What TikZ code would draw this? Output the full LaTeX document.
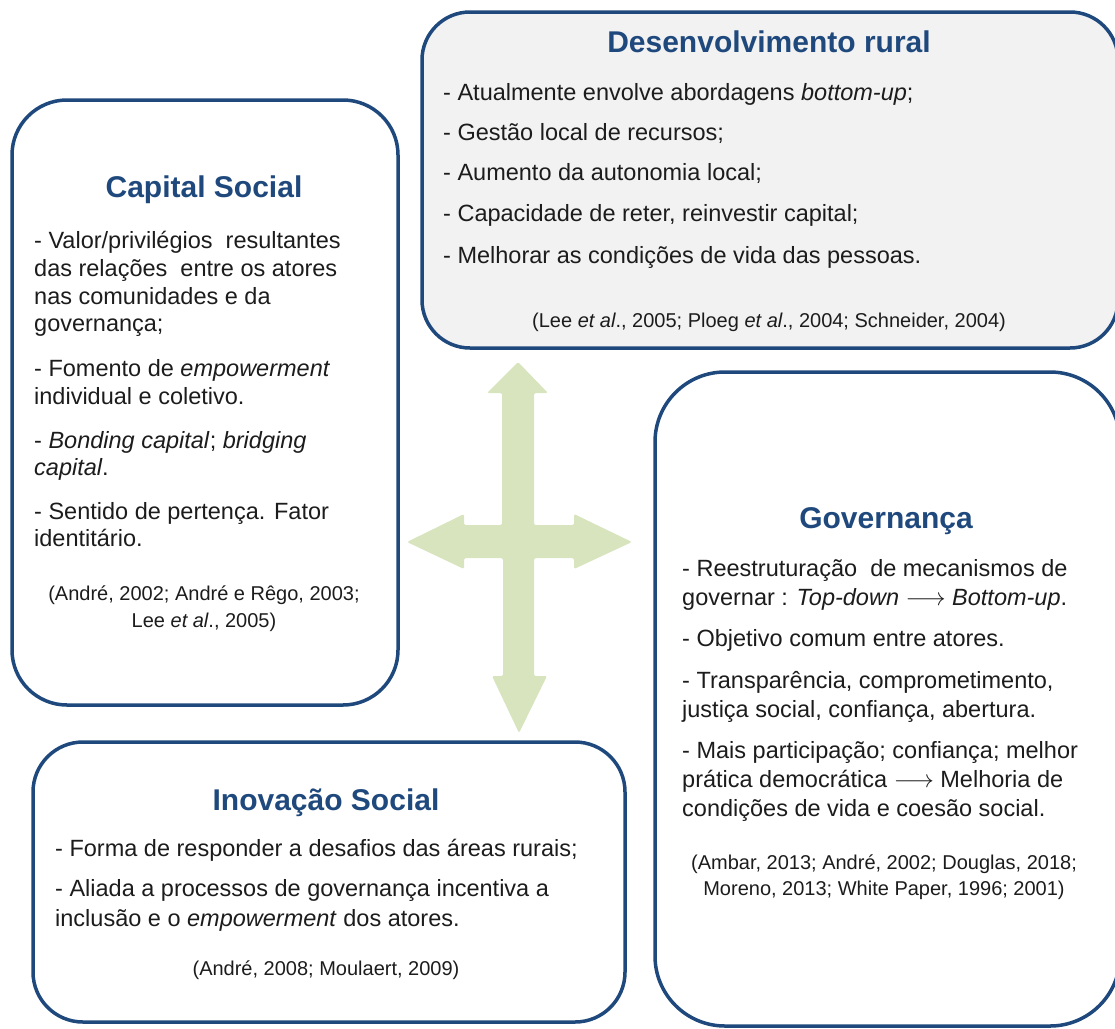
\documentclass[tikz,border=0pt]{standalone}
\usepackage{fontspec}
\setmainfont{Liberation Sans}
\definecolor{dkblue}{HTML}{1F497D}
\definecolor{txt}{HTML}{1C1C1C}
\definecolor{arrowgreen}{HTML}{D7E4BD}
\definecolor{boxgray}{HTML}{F2F2F2}
\begin{document}
\begin{tikzpicture}[x=1pt,y=-1pt,
  box/.style={draw=dkblue, line width=3.5pt, inner sep=0pt},
  ttl/.style={font=\fontsize{30}{36}\selectfont\bfseries, text=dkblue, anchor=base, inner sep=0pt},
  ln/.style={font=\fontsize{23.5}{28}\selectfont, text=txt, anchor=base west, inner sep=0pt},
  cit/.style={font=\fontsize{20}{24}\selectfont, text=txt, anchor=base, inner sep=0pt}]
\useasboundingbox (0,0) rectangle (1115,1028);
\clip (0,0) rectangle (1115,1028);

% four-way arrow
\fill[arrowgreen, rounded corners=1.5pt] (518,362) -- (548,393) -- (534,393) -- (534,525) -- (574,525) -- (574,514) -- (632,542) -- (574,569) -- (574,558) -- (534,558) -- (534,676) -- (547,676) -- (519,733) -- (492,676) -- (503,676) -- (503,558) -- (464,558) -- (464,569) -- (407,542) -- (464,514) -- (464,525) -- (502,525) -- (502,393) -- (487,393) -- cycle;

% boxes
\node[box, rounded corners=55pt, minimum width=386pt, minimum height=605pt] (cs) at (205,402.5) {};
\node[box, fill=boxgray, rounded corners=48pt, minimum width=696pt, minimum height=336pt] (dr) at (770,180) {};
\node[box, rounded corners=70pt, minimum width=465pt, minimum height=654pt] (gv) at (887.5,699) {};
\node[box, rounded corners=50pt, minimum width=592pt, minimum height=280pt] (is) at (329,882) {};

% Capital Social
\node[ttl] (cst) at (204,197) {Capital Social};
\node[ln] (cs1) at (34,248) {- Valor/privilégios~ resultantes};
\node[ln] (cs2) at (34,276) {das relações~ entre os atores};
\node[ln] (cs3) at (34,304) {nas comunidades e da};
\node[ln] (cs4) at (34,331) {governança;};
\node[ln] (cs5) at (34,376) {- Fomento de \textit{empowerment}};
\node[ln] (cs6) at (34,404) {individual e coletivo.};
\node[ln] (cs7) at (34,448) {- \textit{Bonding capital}; \textit{bridging}};
\node[ln] (cs8) at (34,475) {\textit{capital}.};
\node[ln] (cs9) at (34,519) {- Sentido de pertença. Fator};
\node[ln] (cs10) at (34,546) {identitário.};
\node[cit] (csc1) at (204,600) {(André, 2002; André e Rêgo, 2003;};
\node[cit] (csc2) at (204,627) {Lee \textit{et al}., 2005)};

% Desenvolvimento rural
\node[ttl] (drt) at (769,52) {Desenvolvimento rural};
\node[ln] (dr1) at (443,100) {- Atualmente envolve abordagens \textit{bottom-up};};
\node[ln] (dr2) at (443,140) {- Gestão local de recursos;};
\node[ln] (dr3) at (443,180) {- Aumento da autonomia local;};
\node[ln] (dr4) at (443,221) {- Capacidade de reter, reinvestir capital;};
\node[ln] (dr5) at (443,263) {- Melhorar as condições de vida das pessoas.};
\node[cit] (drc) at (769,327) {(Lee \textit{et al}., 2005; Ploeg \textit{et al}., 2004; Schneider, 2004)};

% Governanca
\node[ttl] (gvt) at (886,528) {Governança};
\node[ln] (gv1) at (682,576) {- Reestruturação~ de mecanismos de};
\node[ln] (gv2) at (682,605) {governar : \textit{Top-down} $\longrightarrow$ \textit{Bottom-up}.};
\node[ln] (gv3) at (682,646) {- Objetivo comum entre atores.};
\node[ln] (gv4) at (682,688) {- Transparência, comprometimento,};
\node[ln] (gv5) at (682,717) {justiça social, confiança, abertura.};
\node[ln] (gv6) at (682,758) {- Mais participação; confiança; melhor};
\node[ln] (gv7) at (682,787) {prática democrática $\longrightarrow$ Melhoria de};
\node[ln] (gv8) at (682,816) {condições de vida e coesão social.};
\node[cit] (gvc1) at (884,869) {(Ambar, 2013; André, 2002; Douglas, 2018;};
\node[cit] (gvc2) at (884,895) {Moreno, 2013; White Paper, 1996; 2001)};

% Inovacao Social
\node[ttl] (ist) at (326,810) {Inovação Social};
\node[ln] (is1) at (55,856) {- Forma de responder a desafios das áreas rurais;};
\node[ln] (is2) at (55,896) {- Aliada a processos de governança incentiva a};
\node[ln] (is3) at (55,926) {inclusão e o \textit{empowerment} dos atores.};
\node[cit] (isc) at (326,975) {(André, 2008; Moulaert, 2009)};
\end{tikzpicture}
\end{document}
